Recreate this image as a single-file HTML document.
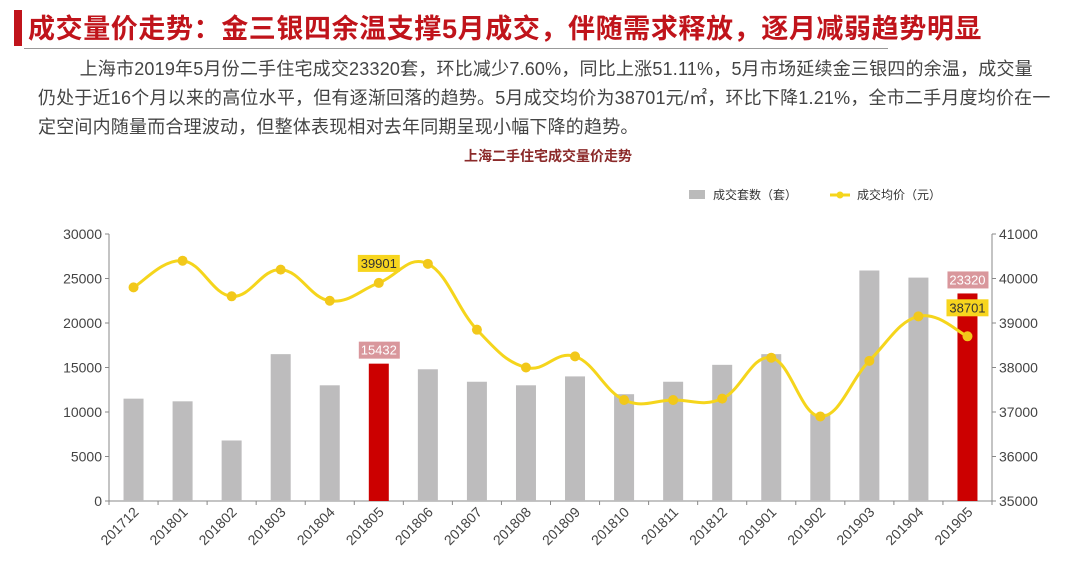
<!DOCTYPE html>
<html><head><meta charset="utf-8"><style>
body{margin:0;width:1080px;height:561px;background:#fff;overflow:hidden;font-family:"Liberation Sans","Noto Sans CJK SC",sans-serif;}
.title{position:absolute;left:28px;top:7px;font-size:27px;font-weight:bold;color:#c0141b;letter-spacing:0.6px;white-space:nowrap;}
.bar{position:absolute;left:14px;top:10px;width:8px;height:36px;background:#c0141b;}
.rule{position:absolute;left:24px;top:48px;width:864px;height:1px;background:#999;}
.p{position:absolute;left:38px;top:55px;width:1040px;font-size:18px;letter-spacing:0.2px;line-height:29px;color:#444;white-space:nowrap;}
</style></head><body>
<div class="bar"></div>
<div class="title">成交量价走势：金三银四余温支撑5月成交，伴随需求释放，逐月减弱趋势明显</div>
<div class="rule"></div>
<div class="p">&nbsp;&nbsp;&nbsp;&nbsp;&nbsp;&nbsp;&nbsp;&nbsp;上海市2019年5月份二手住宅成交23320套，环比减少7.60%，同比上涨51.11%，5月市场延续金三银四的余温，成交量<br>仍处于近16个月以来的高位水平，但有逐渐回落的趋势。5月成交均价为38701元/㎡，环比下降1.21%，全市二手月度均价在一<br>定空间内随量而合理波动，但整体表现相对去年同期呈现小幅下降的趋势。</div>
<svg id="c" width="1080" height="561" style="position:absolute;left:0;top:0"></svg>
<script>
const categories=["201712","201801","201802","201803","201804","201805","201806","201807","201808","201809","201810","201811","201812","201901","201902","201903","201904","201905"];
const volumes=[11500,11200,6800,16500,13000,15432,14800,13400,13000,14000,12000,13400,15300,16500,9800,25900,25100,23320];
const prices=[39800,40400,39600,40200,39500,39901,40330,38850,38000,38250,37270,37270,37300,38220,36900,38150,39150,38701];
const leftTicks=[0,5000,10000,15000,20000,25000,30000];
const rightTicks=[35000,36000,37000,38000,39000,40000,41000];
const highlight=["201805","201905"];
const NS="http://www.w3.org/2000/svg";
const svg=document.getElementById('c');
const X0=109,X1=992,Y0=501,Y1=234;
const band=(X1-X0)/categories.length;
const xc=i=>X0+band*(i+0.5);
const yL=v=>Y0-(v/30000)*(Y0-Y1);
const yR=v=>Y0-((v-35000)/6000)*(Y0-Y1);
function mk(t,a,p){const e=document.createElementNS(NS,t);for(const k in a)e.setAttribute(k,a[k]);(p||svg).appendChild(e);return e;}
let t=mk('text',{x:548,y:161,'text-anchor':'middle','font-size':14,'font-weight':'bold',fill:'#8b2a2a'});


t.textContent='上海二手住宅成交量价走势';
let lg=mk('g',{});


mk('rect',{x:689,y:190,width:16,height:9,fill:'#bbb'},lg);
let l1=mk('text',{x:713,y:199,'font-size':12,fill:'#333'},lg);l1.textContent='成交套数（套）';
mk('line',{x1:830,y1:195,x2:850,y2:195,stroke:'#f5d51c','stroke-width':3},lg);
mk('circle',{cx:840,cy:195,r:3.5,fill:'#f5d51c'},lg);
let l2=mk('text',{x:857,y:199,'font-size':12,fill:'#333'},lg);l2.textContent='成交均价（元）';
let ax=mk('g',{stroke:'#888','stroke-width':1});


mk('line',{x1:X0,y1:Y1,x2:X0,y2:Y0},ax);
mk('line',{x1:X1,y1:Y1,x2:X1,y2:Y0},ax);
mk('line',{x1:X0,y1:Y0,x2:X1,y2:Y0},ax);
leftTicks.forEach(v=>{mk('line',{x1:X0-4,y1:yL(v),x2:X0,y2:yL(v)},ax);
 let e=mk('text',{x:X0-7,y:yL(v)+5,'text-anchor':'end','font-size':14,fill:'#444',stroke:'none'});
 
 
 e.textContent=v;});
rightTicks.forEach(v=>{mk('line',{x1:X1,y1:yR(v),x2:X1+4,y2:yR(v)},ax);
 let e=mk('text',{x:X1+7,y:yR(v)+5,'font-size':14,fill:'#444',stroke:'none'});
 
 
 e.textContent=v;});
categories.forEach((c,i)=>{const x=X0+band*i;mk('line',{x1:x,y1:Y0,x2:x,y2:Y0+4},ax);
 const cx=xc(i);
 let e=mk('text',{x:cx+6,y:Y0+12,'text-anchor':'end','font-size':14,fill:'#444',stroke:'none',transform:`rotate(-45 ${cx+6} ${Y0+12})`});
 
 
 e.textContent=c;});
mk('line',{x1:X0+band*18,y1:Y0,x2:X0+band*18,y2:Y0+4},ax);
volumes.forEach((v,i)=>{const hl=highlight.includes(categories[i]);
 let r=mk('rect',{x:xc(i)-10,y:yL(v),width:20,height:Y0-yL(v),fill:hl?'#cc0000':'#bdbcbd'});
 
 
 if(hl){mk('rect',{x:xc(i)-20,y:yL(v)-22,width:41,height:17,fill:'#d9979c'});
  let e=mk('text',{x:xc(i),y:yL(v)-9,'text-anchor':'middle','font-size':13,fill:'#fff'});
  
  
  e.textContent=v;}
});
const pts=prices.map((p,i)=>[xc(i),yR(p)]);
let d=`M${pts[0][0]},${pts[0][1]}`;
for(let i=0;i<pts.length-1;i++){const p0=pts[i-1]||pts[i],p1=pts[i],p2=pts[i+1],p3=pts[i+2]||p2;const k=0.2;
 d+=` C${p1[0]+(p2[0]-p0[0])*k},${p1[1]+(p2[1]-p0[1])*k} ${p2[0]-(p3[0]-p1[0])*k},${p2[1]-(p3[1]-p1[1])*k} ${p2[0]},${p2[1]}`;}
let ln=mk('path',{d:d,fill:'none',stroke:'#f5d51c','stroke-width':3});


prices.forEach((p,i)=>{let c=mk('circle',{cx:xc(i),cy:yR(p),r:5,fill:'#f2c81a'});
 
 
 if(highlight.includes(categories[i])){const up=i<10;const ly=up?yR(p)-28:yR(p)-37;
  mk('rect',{x:xc(i)-21,y:ly,width:42,height:17,fill:'#f7d51e'});
  let e=mk('text',{x:xc(i),y:ly+13,'text-anchor':'middle','font-size':13,fill:'#333'});
  
  
  e.textContent=p;}
});
</script>
</body></html>
